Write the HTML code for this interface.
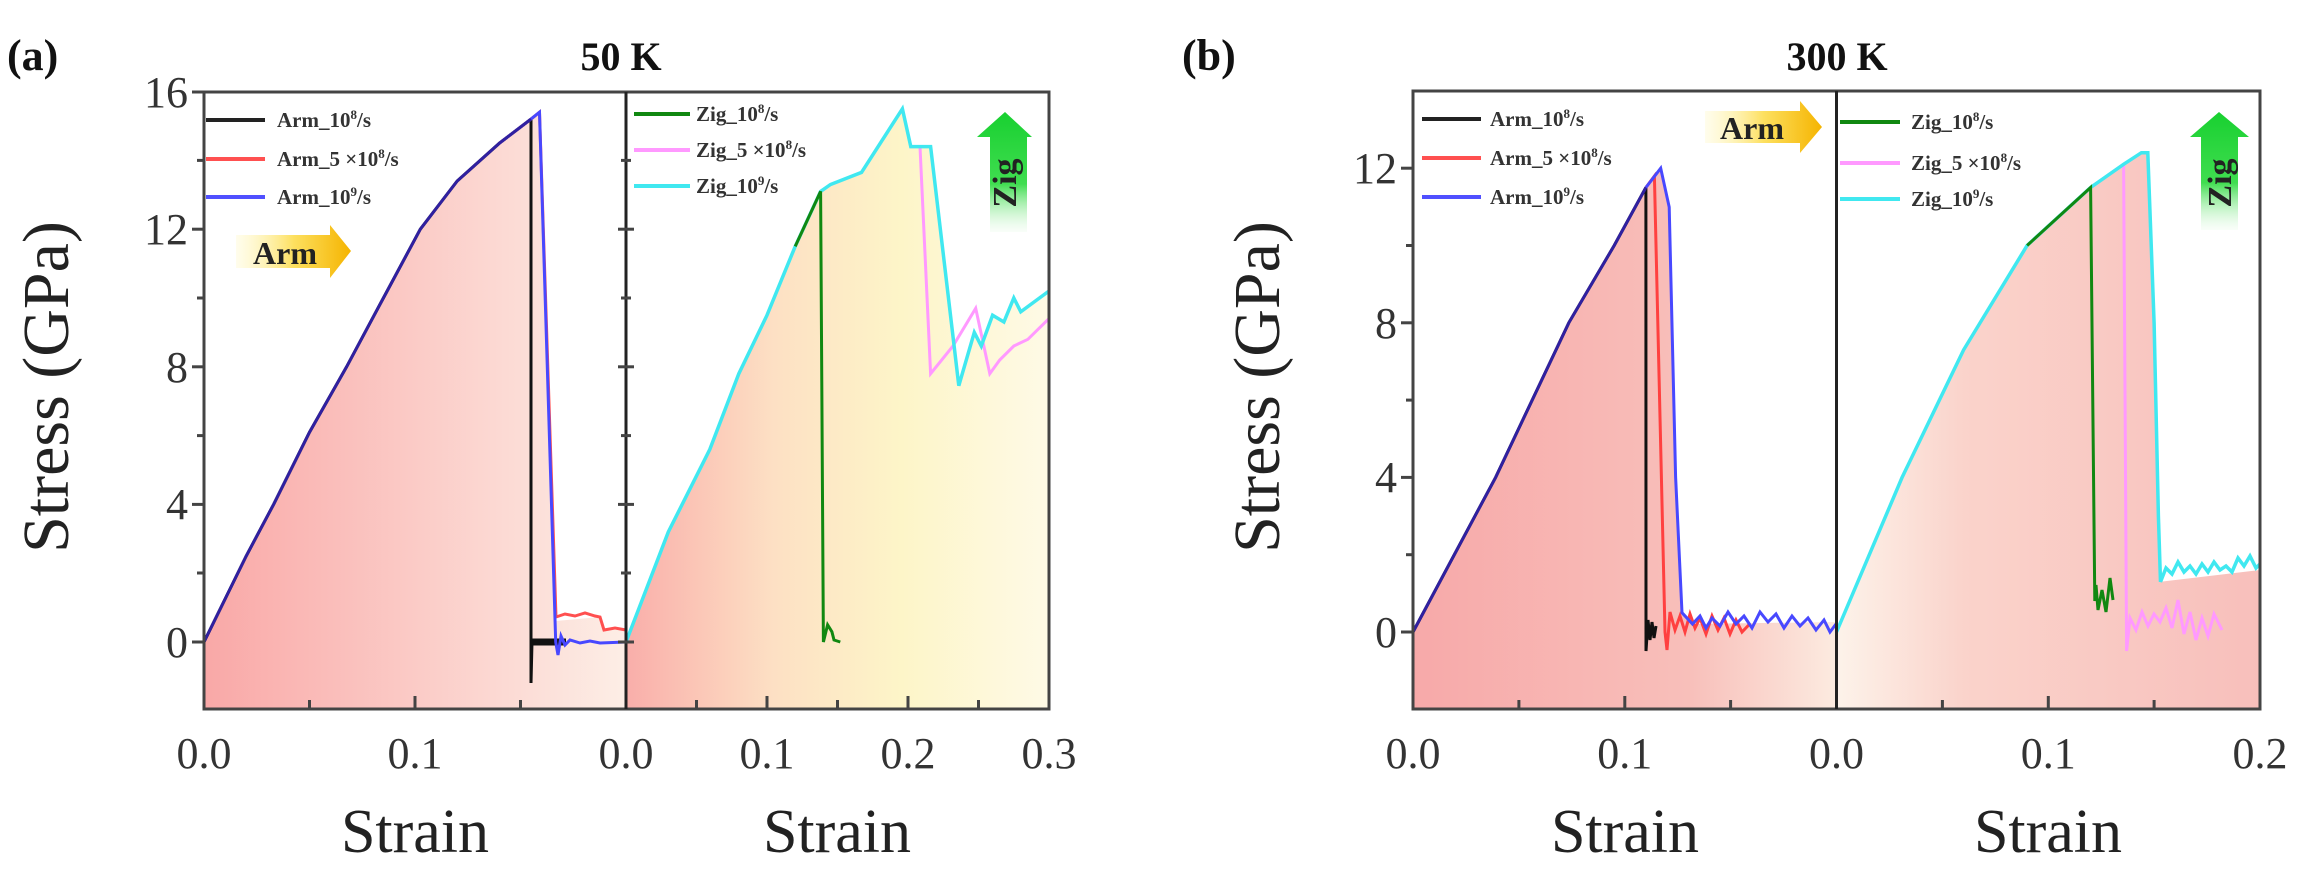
<!DOCTYPE html>
<html><head><meta charset="utf-8"><style>
html,body{margin:0;padding:0;background:#fff;}
svg{display:block;}
text{font-family:"Liberation Serif",serif;}
</style></head><body>
<svg width="2315" height="876" viewBox="0 0 2315 876" xmlns="http://www.w3.org/2000/svg">
<defs>
<linearGradient id="ga1" x1="0" x2="1" y1="0" y2="0"><stop offset="0" stop-color="#f9a8a7"/><stop offset="1" stop-color="#fdeee6"/></linearGradient>
<linearGradient id="ga2" x1="0" x2="1" y1="0" y2="0"><stop offset="0" stop-color="#f9aeaa"/><stop offset="0.35" stop-color="#fde0c4"/><stop offset="0.65" stop-color="#fdf5c8"/><stop offset="1" stop-color="#fefae6"/></linearGradient>
<linearGradient id="gb1" x1="0" x2="1" y1="0" y2="0"><stop offset="0" stop-color="#f7a9a9"/><stop offset="0.65" stop-color="#f8bfba"/><stop offset="1" stop-color="#fcebe0"/></linearGradient>
<linearGradient id="gb2" x1="0" x2="1" y1="0" y2="0"><stop offset="0" stop-color="#fdf3ea"/><stop offset="0.3" stop-color="#fad3cb"/><stop offset="1" stop-color="#f8bfbb"/></linearGradient>
<linearGradient id="gy" x1="0" x2="1" y1="0" y2="0"><stop offset="0" stop-color="#fff8c0" stop-opacity="0.3"/><stop offset="0.5" stop-color="#fde060"/><stop offset="1" stop-color="#f5b400"/></linearGradient>
<linearGradient id="gg" x1="0" x2="0" y1="0" y2="1"><stop offset="0" stop-color="#18d030"/><stop offset="0.6" stop-color="#40dd50"/><stop offset="1" stop-color="#e0f8e0" stop-opacity="0.2"/></linearGradient>
</defs>

<polygon fill="url(#ga1)" points="204,709 204,642 246.2,556 273.6,504.4 309.5,432.2 346.6,366.8 383.4,298 420.3,229.2 457.2,181 499.4,143.2 531,119.1 539.5,112.2 555.7,621 600,617 604,630 626,630 626,709"/>
<polygon fill="url(#ga2)" points="626,709 626,642 668.3,532 709.8,449.4 738.8,373.7 767,315.2 795.2,246.4 820.6,191.4 830.5,184.5 861.5,172.4 902.4,108.8 910.8,146.6 930.6,146.6 958.8,385.7 974.3,332.4 981.3,346 992.6,315.2 1003.9,322 1013.8,298 1020.8,311.8 1034.9,301.4 1049,291 1049,709"/>

<polyline fill="none" stroke="#111" stroke-width="3" points="204,642 246.2,556 273.6,504.4 309.5,432.2 346.6,366.8 383.4,298 420.3,229.2 457.2,181 499.4,143.2 531,119.1 531,683 532,642 566,642"/>
<polyline fill="none" stroke="#111" stroke-width="7" points="532,642 566,642"/>
<polyline fill="none" stroke="#ff5050" stroke-width="3" points="499.4,143.2 531,119.1 539.5,112.2 556,617 565,614 575,616 585,613 595,616 600,617 604,630 615,628 626,630"/>
<polyline fill="none" stroke="#4848ff" stroke-width="3" points="499.4,143.2 531,119.1 539.5,112.2 555.7,642 558,655 561,636 565,645 570,640 580,643 590,641 600,643 626,642"/>
<polyline fill="none" stroke="#3020a0" stroke-width="3" points="204,642 246.2,556 273.6,504.4 309.5,432.2 346.6,366.8 383.4,298 420.3,229.2 457.2,181 499.4,143.2 531,119.1"/>

<polyline fill="none" stroke="#ff99ff" stroke-width="3" points="902.4,108.8 910.8,146.6 920,146.6 930.6,373.7 953,346 975.7,308.3 989.8,373.7 999.7,360 1013.8,346 1027.9,339.3 1049,318.6"/>
<polyline fill="none" stroke="#40e8f0" stroke-width="3.5" points="626,642 668.3,532 709.8,449.4 738.8,373.7 767,315.2 795.2,246.4 820.6,191.4 830.5,184.5 861.5,172.4 902.4,108.8 910.8,146.6 930.6,146.6 958.8,385.7 974.3,332.4 981.3,346 992.6,315.2 1003.9,322 1013.8,298 1020.8,311.8 1034.9,301.4 1049,291"/>
<polyline fill="none" stroke="#118811" stroke-width="3" points="795.2,246.4 820.6,191.4 823.4,642 827.6,624.8 831.9,631.7 834,640 840.3,642"/>

<rect x="204" y="92" width="845" height="617" fill="none" stroke="#444" stroke-width="3"/>
<line x1="626" y1="92" x2="626" y2="709" stroke="#222" stroke-width="3"/>
<g stroke="#444" stroke-width="3">
<line x1="192" y1="642" x2="204" y2="642"/><line x1="192" y1="504.4" x2="204" y2="504.4"/><line x1="192" y1="366.8" x2="204" y2="366.8"/><line x1="192" y1="229.2" x2="204" y2="229.2"/><line x1="192" y1="92" x2="204" y2="92"/>
<line x1="197" y1="573" x2="204" y2="573"/><line x1="197" y1="435.6" x2="204" y2="435.6"/><line x1="197" y1="298" x2="204" y2="298"/><line x1="197" y1="160.4" x2="204" y2="160.4"/>
<line x1="618" y1="642" x2="634" y2="642"/><line x1="618" y1="504.4" x2="634" y2="504.4"/><line x1="618" y1="366.8" x2="634" y2="366.8"/><line x1="618" y1="229.2" x2="634" y2="229.2"/>
<line x1="621" y1="573" x2="631" y2="573"/><line x1="621" y1="435.6" x2="631" y2="435.6"/><line x1="621" y1="298" x2="631" y2="298"/><line x1="621" y1="160.4" x2="631" y2="160.4"/>
<line x1="309.5" y1="709" x2="309.5" y2="700"/><line x1="415" y1="709" x2="415" y2="696"/><line x1="520.5" y1="709" x2="520.5" y2="700"/>
<line x1="696.5" y1="709" x2="696.5" y2="700"/><line x1="767" y1="709" x2="767" y2="696"/><line x1="837.5" y1="709" x2="837.5" y2="700"/><line x1="908" y1="709" x2="908" y2="696"/><line x1="978.5" y1="709" x2="978.5" y2="700"/>
</g>
<g font-size="44" fill="#333" text-anchor="end">
<text x="188" y="657">0</text><text x="188" y="519">4</text><text x="188" y="382">8</text><text x="188" y="244">12</text><text x="188" y="107">16</text>
</g>
<g font-size="44" fill="#333" text-anchor="middle">
<text x="204" y="768">0.0</text><text x="415" y="768">0.1</text><text x="626" y="768">0.0</text><text x="767" y="768">0.1</text><text x="908" y="768">0.2</text><text x="1049" y="768">0.3</text>
</g>
<g font-size="62" fill="#222" text-anchor="middle">
<text x="415" y="852">Strain</text><text x="837" y="852">Strain</text>
</g>
<text transform="translate(68,387) rotate(-90)" font-size="66" fill="#222" text-anchor="middle">Stress (GPa)</text>
<text x="7" y="70" font-size="44" font-weight="bold" fill="#111">(a)</text>
<text x="621" y="70" font-size="40" font-weight="bold" fill="#111" text-anchor="middle">50 K</text>

<g stroke-width="4">
<line x1="206" y1="120" x2="265" y2="120" stroke="#222"/>
<line x1="206" y1="159" x2="265" y2="159" stroke="#ff5050"/>
<line x1="206" y1="197" x2="265" y2="197" stroke="#5050ff"/>
<line x1="634" y1="114" x2="690" y2="114" stroke="#118811"/>
<line x1="634" y1="150" x2="690" y2="150" stroke="#ff99ff"/>
<line x1="634" y1="186" x2="690" y2="186" stroke="#40e8f0"/>
</g>
<g font-size="21" font-weight="bold" fill="#333">
<text x="277" y="127">Arm_10<tspan font-size="13" dy="-8">8</tspan><tspan dy="8">/s</tspan></text>
<text x="277" y="166">Arm_5 ×10<tspan font-size="13" dy="-8">8</tspan><tspan dy="8">/s</tspan></text>
<text x="277" y="204">Arm_10<tspan font-size="13" dy="-8">9</tspan><tspan dy="8">/s</tspan></text>
<text x="696" y="121">Zig_10<tspan font-size="13" dy="-8">8</tspan><tspan dy="8">/s</tspan></text>
<text x="696" y="157">Zig_5 ×10<tspan font-size="13" dy="-8">8</tspan><tspan dy="8">/s</tspan></text>
<text x="696" y="193">Zig_10<tspan font-size="13" dy="-8">9</tspan><tspan dy="8">/s</tspan></text>
</g>
<polygon fill="url(#gy)" points="236,235 330,235 330,225 351,251 330,278 330,268 236,268"/>
<text x="285" y="264" font-size="32" font-weight="bold" fill="#222" text-anchor="middle">Arm</text>
<polygon fill="url(#gg)" points="1005,112 1032,137 1027,137 1027,232 990,232 990,137 977,137"/>
<text transform="translate(1016,183) rotate(-90)" font-size="34" font-weight="bold" fill="#222" text-anchor="middle">Zig</text>

<!-- ===== Panel b ===== -->
<polygon fill="url(#gb1)" points="1413,709 1413,632 1495.6,477.4 1568.8,322.8 1614.2,245.5 1645.9,187.5 1660.7,168.2 1669.2,207 1675.6,477 1682,612.7 1692.5,624 1836.5,622 1836.5,709"/>
<polygon fill="url(#gb2)" points="1836.5,709 1836.5,632 1902.1,477.4 1963.6,349.9 2027.1,245.5 2090.6,187.5 2123.6,164.3 2141.4,152.7 2147.8,152.7 2154.1,322.8 2158.4,516 2160.5,581.8 2260,570 2260,709"/>

<polyline fill="none" stroke="#111" stroke-width="3" points="1413,632 1495.6,477.4 1568.8,322.8 1614.2,245.5 1645.9,187.5 1646,651 1648,620 1650,640 1652,622 1654,638 1656,626"/>
<polyline fill="none" stroke="#ff4040" stroke-width="3" points="1645.9,187.5 1654.4,176 1665,632 1667,650 1670,612 1675,630 1680,616 1685,632 1690,614 1695,628 1700,618 1706,634 1712,616 1718,630 1724,618 1730,634 1736,620 1742,632 1749.7,624"/>
<polyline fill="none" stroke="#4848ff" stroke-width="3" points="1645.9,187.5 1660.7,168.2 1669.2,207 1675.6,477 1682,612.7 1692.5,624 1700,616 1706,628 1712,618 1720,626 1728,612 1736,624 1744,616 1752,628 1760,612 1768,622 1776,614 1784,628 1792,616 1800,626 1808,618 1816,630 1824,620 1830,632 1836,624"/>
<polyline fill="none" stroke="#3020a0" stroke-width="3" points="1413,632 1495.6,477.4 1568.8,322.8 1614.2,245.5 1645.9,187.5"/>

<polyline fill="none" stroke="#ff99ff" stroke-width="3" points="2090.6,187.5 2123.6,164.3 2126.6,651 2130,618 2136,630 2142,612 2148,626 2154,614 2160,622 2166,608 2172,628 2178,600 2184,634 2190,612 2196,640 2202,618 2208,636 2214,614 2222,630"/>
<polyline fill="none" stroke="#40e8f0" stroke-width="3.5" points="1836.5,632 1902.1,477.4 1963.6,349.9 2027.1,245.5 2090.6,187.5 2123.6,164.3 2141.4,152.7 2147.8,152.7 2154.1,322.8 2158.4,516 2160.5,581.8 2166,568 2172,574 2178,562 2184,572 2190,566 2196,574 2202,564 2208,572 2214,562 2220,570 2226,566 2232,572 2238,558 2244,566 2250,556 2256,568 2260,564"/>
<polyline fill="none" stroke="#118811" stroke-width="3" points="2027.1,245.5 2090.6,187.5 2094.8,601 2096,585 2098,610 2102,590 2106,612 2110,578 2113,600"/>

<rect x="1413" y="91" width="847" height="618" fill="none" stroke="#444" stroke-width="3"/>
<line x1="1836.5" y1="91" x2="1836.5" y2="709" stroke="#222" stroke-width="3"/>
<g stroke="#444" stroke-width="3">
<line x1="1401" y1="632" x2="1413" y2="632"/><line x1="1401" y1="477.4" x2="1413" y2="477.4"/><line x1="1401" y1="322.8" x2="1413" y2="322.8"/><line x1="1401" y1="168.2" x2="1413" y2="168.2"/>
<line x1="1406" y1="554.7" x2="1413" y2="554.7"/><line x1="1406" y1="400.1" x2="1413" y2="400.1"/><line x1="1406" y1="245.5" x2="1413" y2="245.5"/>
<line x1="1518.9" y1="709" x2="1518.9" y2="700"/><line x1="1624.8" y1="709" x2="1624.8" y2="696"/><line x1="1730.6" y1="709" x2="1730.6" y2="700"/>
<line x1="1942.4" y1="709" x2="1942.4" y2="700"/><line x1="2048.3" y1="709" x2="2048.3" y2="696"/><line x1="2154.1" y1="709" x2="2154.1" y2="700"/>
</g>
<g font-size="44" fill="#333" text-anchor="end">
<text x="1397" y="647">0</text><text x="1397" y="492">4</text><text x="1397" y="338">8</text><text x="1397" y="183">12</text>
</g>
<g font-size="44" fill="#333" text-anchor="middle">
<text x="1413" y="768">0.0</text><text x="1624.8" y="768">0.1</text><text x="1836.5" y="768">0.0</text><text x="2048.3" y="768">0.1</text><text x="2260" y="768">0.2</text>
</g>
<g font-size="62" fill="#222" text-anchor="middle">
<text x="1625" y="852">Strain</text><text x="2048" y="852">Strain</text>
</g>
<text transform="translate(1279,387) rotate(-90)" font-size="66" fill="#222" text-anchor="middle">Stress (GPa)</text>
<text x="1182" y="70" font-size="44" font-weight="bold" fill="#111">(b)</text>
<text x="1837" y="70" font-size="40" font-weight="bold" fill="#111" text-anchor="middle">300 K</text>

<g stroke-width="4">
<line x1="1422" y1="119" x2="1481" y2="119" stroke="#222"/>
<line x1="1422" y1="158" x2="1481" y2="158" stroke="#ff5050"/>
<line x1="1422" y1="197" x2="1481" y2="197" stroke="#5050ff"/>
<line x1="1840" y1="122" x2="1900" y2="122" stroke="#118811"/>
<line x1="1840" y1="163" x2="1900" y2="163" stroke="#ff99ff"/>
<line x1="1840" y1="199" x2="1900" y2="199" stroke="#40e8f0"/>
</g>
<g font-size="21" font-weight="bold" fill="#333">
<text x="1490" y="126">Arm_10<tspan font-size="13" dy="-8">8</tspan><tspan dy="8">/s</tspan></text>
<text x="1490" y="165">Arm_5 ×10<tspan font-size="13" dy="-8">8</tspan><tspan dy="8">/s</tspan></text>
<text x="1490" y="204">Arm_10<tspan font-size="13" dy="-8">9</tspan><tspan dy="8">/s</tspan></text>
<text x="1911" y="129">Zig_10<tspan font-size="13" dy="-8">8</tspan><tspan dy="8">/s</tspan></text>
<text x="1911" y="170">Zig_5 ×10<tspan font-size="13" dy="-8">8</tspan><tspan dy="8">/s</tspan></text>
<text x="1911" y="206">Zig_10<tspan font-size="13" dy="-8">9</tspan><tspan dy="8">/s</tspan></text>
</g>
<polygon fill="url(#gy)" points="1705,111 1800,111 1800,101 1822,127 1800,153 1800,143 1705,143"/>
<text x="1752" y="139" font-size="32" font-weight="bold" fill="#222" text-anchor="middle">Arm</text>
<polygon fill="url(#gg)" points="2219,112 2249,137 2238,137 2238,230 2201,230 2201,137 2190,137"/>
<text transform="translate(2231,183) rotate(-90)" font-size="34" font-weight="bold" fill="#222" text-anchor="middle">Zig</text>
</svg>
</body></html>
